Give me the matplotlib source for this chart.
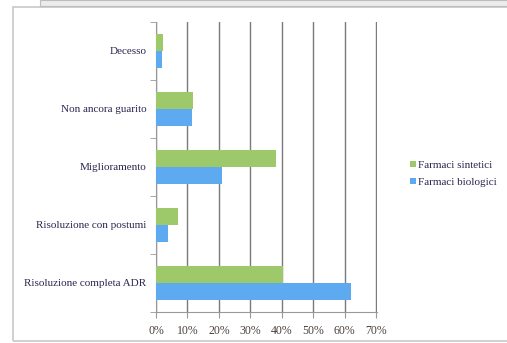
import numpy as np
import matplotlib.pyplot as plt
from matplotlib.patches import Rectangle

categories = ["Risoluzione completa ADR", "Risoluzione con postumi", "Miglioramento",
              "Non ancora guarito", "Decesso"]
sintetici = [40.5, 7.1, 38.3, 11.9, 2.3]
biologici = [62.0, 3.8, 21.0, 11.6, 1.8]
xticks = [0, 10, 20, 30, 40, 50, 60, 70]

plt.rcParams['font.family'] = ['Liberation Serif', 'DejaVu Serif']

fig = plt.figure(figsize=(5.07, 3.43), dpi=100)

# outer frame of the screenshot
fig.patches.append(Rectangle((13/507, 0.006), 1.0, 1 - 7/343 - 0.006, transform=fig.transFigure,
                             fill=False, edgecolor='#c8c8c8', linewidth=1.2))
fig.patches.append(Rectangle((40/507, 1 - 6/343), 1.0, 6/343, transform=fig.transFigure,
                             facecolor='#ececec', edgecolor='#bdbdbd', linewidth=0.8))

ax = fig.add_axes([156/507, 31/343, 221/507, 290/343])

y = np.arange(len(categories))
h = 0.285
ax.barh(y + h/2, sintetici, height=h, color='#9dc96b', label='Farmaci sintetici', zorder=3)
ax.barh(y - h/2, biologici, height=h, color='#5eaaf0', label='Farmaci biologici', zorder=3)

ax.set_xlim(0, 70.3)
ax.set_ylim(-0.5, len(categories) - 0.5)
ax.set_xticks(xticks)
ax.set_xticklabels([f"{v}%" for v in xticks], fontsize=8.5, color='#4a3f3a')
ax.set_yticks(y)
ax.set_yticklabels(categories, fontsize=8, color='#2a2850')
ax.set_yticks(np.arange(len(categories) + 1) - 0.5, minor=True)
ax.tick_params(axis='y', which='major', length=0, pad=7)
ax.tick_params(axis='y', which='minor', length=4, color='#999999', direction='out')
ax.tick_params(axis='x', length=4, color='#999999', pad=5)

ax.grid(axis='x', color='#7a7a7a', linewidth=1.0, zorder=0)
for s in ['top', 'right']:
    ax.spines[s].set_visible(False)
ax.spines['left'].set_color('#999999')
ax.spines['bottom'].set_color('#999999')

handles, labels = ax.get_legend_handles_labels()
fig.legend(handles, labels, loc='center left', bbox_to_anchor=(400/507, 1 - 174/343),
           frameon=False, fontsize=8, handlelength=0.5, handleheight=0.5,
           handletextpad=0.25, labelspacing=0.7, labelcolor='#2a2850')

fig.savefig('out.png', dpi=100)
